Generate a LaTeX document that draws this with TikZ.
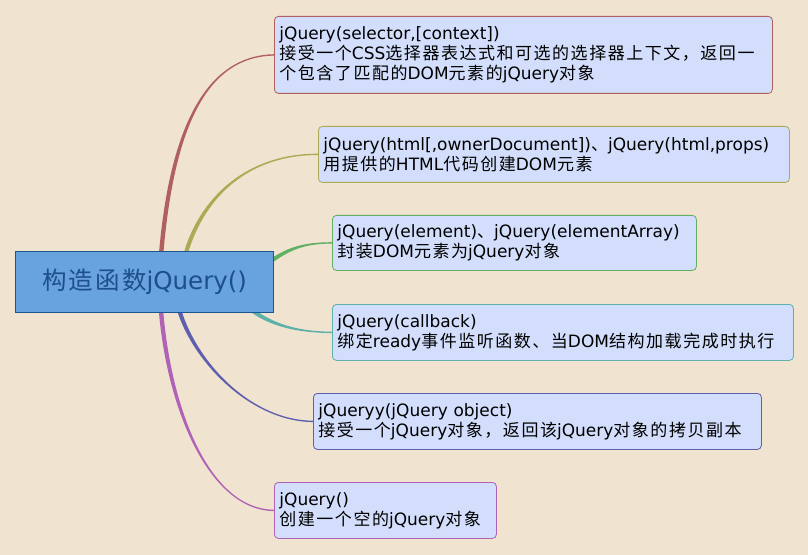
\documentclass[tikz,border=0pt]{standalone}
\usepackage{fontspec}
\setmainfont{DejaVu Sans}
\newfontfamily\cjk[LetterSpace=9]{Noto Sans CJK SC}
\newcommand\zh[1]{{\cjk #1}}
\usetikzlibrary{calc}
\definecolor{wood}{HTML}{F0E3D0}
\definecolor{leaffill}{HTML}{D2DEFB}
\definecolor{rootfill}{HTML}{68A2DF}
\definecolor{rootline}{HTML}{1D5592}
\definecolor{roottext}{HTML}{1D4F8A}
\definecolor{cRed}{HTML}{B0605F}
\definecolor{cOlive}{HTML}{ABAA55}
\definecolor{cGreen}{HTML}{62B063}
\definecolor{cTeal}{HTML}{5DB1A8}
\definecolor{cBlue}{HTML}{5F5FAE}
\definecolor{cPink}{HTML}{B062B6}
\pgfdeclarelayer{woodlayer}
\pgfdeclarelayer{links}
\pgfsetlayers{woodlayer,links,main}
\def\branch[#1](#2)(#3)(#4)(#5)(#6){\fill[#1] ($(#2)+(#6)$) .. controls ($(#3)+(#6)$) and ($(#4)+(0,-0.7)$) .. ($(#5.west)+(0,-0.7)$) -- ($(#5.west)+(0,0.7)$) .. controls ($(#4)+(0,0.7)$) and ($(#3)-(#6)$) .. ($(#2)-(#6)$) -- cycle;}
\tikzset{
	leaf/.style={draw=#1, fill=leaffill, rounded corners=4bp, line width=0.8bp, anchor=north west, align=left, inner xsep=5bp, inner ysep=0pt, font=\fontsize{17bp}{20bp}\selectfont},
	rootbox/.style={draw=rootline, fill=rootfill, line width=1bp, minimum width=257bp, minimum height=60bp, inner sep=0pt, text=roottext, font=\fontsize{24.5bp}{27bp}\selectfont}
}

\begin{document}
\begin{tikzpicture}[x=1bp, y=-1bp]
			%%%%% START %%%%%
			
			\useasboundingbox (0, 0) rectangle (808, 555);
			\begin{pgfonlayer}{woodlayer}
				\fill[wood] (0, 0) rectangle (808, 555);
			\end{pgfonlayer}
			
			\node[rootbox] (root) at (144.5, 282) {\zh{构造函数}jQuery()};
			
			\node[leaf=cRed, text width=488bp, minimum height=77bp] (sel) at (274, 16) {jQuery(selector,[context])\\\zh{接受一个}CSS\zh{选择器表达式和可选的选择器上下文，返回一}\\\zh{个包含了匹配的}DOM\zh{元素的}jQuery\zh{对象}};
			\node[leaf=cOlive, text width=461bp, minimum height=56bp] (html) at (318, 126) {jQuery(html[,ownerDocument])\zh{、}jQuery(html,props)\\\zh{用提供的}HTML\zh{代码创建}DOM\zh{元素}};
			\node[leaf=cGreen, text width=354bp, minimum height=55bp] (elem) at (332, 215) {jQuery(element)\zh{、}jQuery(elementArray)\\\zh{封装}DOM\zh{元素为}jQuery\zh{对象}};
			\node[leaf=cTeal, text width=451bp, minimum height=56bp] (call) at (332, 304) {jQuery(callback)\\\zh{绑定}ready\zh{事件监听函数、当}DOM\zh{结构加载完成时执行}};
			\node[leaf=cBlue, text width=438bp, minimum height=56bp] (copy) at (313, 393) {jQueryy(jQuery object)\\\zh{接受一个}jQuery\zh{对象，返回该}jQuery\zh{对象的拷贝副本}};
			\node[leaf=cPink, text width=212bp, minimum height=56bp] (empty) at (274, 482) {jQuery()\\\zh{创建一个空的}jQuery\zh{对象}};
			
			\coordinate (s1) at ($(root.north)+(16, 10)$);
			\coordinate (s2) at ($(root.north)+(39, 10)$);
			\coordinate (s3) at ($(root.east)+(-12, -14)$);
			\coordinate (s4) at ($(root.south)+(100, -8)$);
			\coordinate (s5) at ($(root.south)+(33, -8)$);
			\coordinate (s6) at ($(root.south)+(16, -8)$);
			
			\begin{pgfonlayer}{links}
				\branch[cRed](s1)(172, 110)(215, 56)(sel)(-2.2, 0)
				\branch[cOlive](s2)(200, 195)(250, 154)(html)(-2, -0.6)
				\branch[cGreen](s3)(285, 250)(300, 243)(elem)(-1.2, -1.8)
				\branch[cTeal](s4)(265, 322)(290, 332)(call)(1.2, -1.8)
				\branch[cBlue](s5)(192, 360)(250, 421)(copy)(2.2, 0)
				\branch[cPink](s6)(168, 410)(210, 510)(empty)(2.2, 0)
			\end{pgfonlayer}
			
			%%%%% END %%%%%
\end{tikzpicture}
\end{document}
